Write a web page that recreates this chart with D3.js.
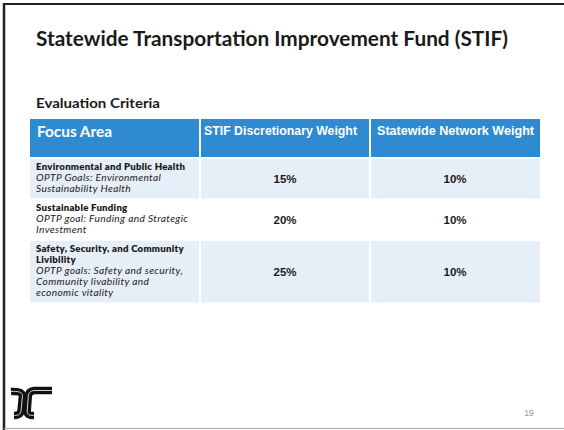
<!DOCTYPE html>
<html><head><meta charset="utf-8">
<script src="https://cdn.jsdelivr.net/npm/d3@7"></script>
<style>html,body{margin:0;padding:0;background:#fff;}svg{display:block;}</style>
</head><body>
<script>
// ---- data ----
const title = "Statewide Transportation Improvement Fund (STIF)";
const subtitle = "Evaluation Criteria";
const headers = ["Focus Area", "STIF Discretionary Weight", "Statewide Network Weight"];
const focusTitles = [
  ["Environmental and Public Health"],
  ["Sustainable Funding"],
  ["Safety, Security, and Community", "Livibility"]
];
const focusGoals = [
  ["OPTP Goals:  Environmental", "Sustainability Health"],
  ["OPTP goal:  Funding and Strategic", "Investment"],
  ["OPTP goals:  Safety and security,", "Community livability and", "economic vitality"]
];
const stifWeights = [15, 20, 25];
const networkWeights = [10, 10, 10];
const pageNumber = "19";

// ---- drawing ----
const W = 564, H = 430;
const svg = d3.select("body").append("svg").attr("width", W).attr("height", H);
svg.append("rect").attr("width", W).attr("height", H).attr("fill", "#fff");

// frame
svg.append("line").attr("x1", 4).attr("x2", W).attr("y1", 4).attr("y2", 4).attr("stroke", "#222").attr("stroke-width", 2);
svg.append("line").attr("x1", 4).attr("x2", 4).attr("y1", 3).attr("y2", H).attr("stroke", "#222").attr("stroke-width", 2.5);
svg.append("line").attr("x1", 4).attr("x2", W).attr("y1", 428.5).attr("y2", 428.5).attr("stroke", "#aaa").attr("stroke-width", 1.2);

const gothic = "'Lato','Open Sans',sans-serif";
const calibri = "'Liberation Sans','Open Sans',sans-serif";

svg.append("text").attr("x", 36).attr("y", 46).text(title)
  .attr("font-family", gothic).attr("font-weight", 700).attr("font-size", 20.5)
  .attr("fill", "#1a1a1a").attr("textLength", 472).attr("lengthAdjust", "spacingAndGlyphs");

svg.append("text").attr("x", 36).attr("y", 108).text(subtitle)
  .attr("font-family", gothic).attr("font-weight", 700).attr("font-size", 13.5)
  .attr("fill", "#1a1a1a").attr("textLength", 124).attr("lengthAdjust", "spacingAndGlyphs");

// table scales
const x = d3.scaleBand().domain(d3.range(headers.length)).range([30, 540]).paddingInner(0);
const gap = 1;
const headerTop = 119, headerBottom = 157;
const lineH = 11;
const rows = focusTitles.map((t, i) => ({
  title: t, goals: focusGoals[i], stif: stifWeights[i], net: networkWeights[i],
  lines: t.length + focusGoals[i].length
}));
let acc = 159;
rows.forEach(r => { r.top = acc; r.h = r.lines * lineH + 8; acc += r.h; });

// header
const hdr = svg.append("g");
hdr.selectAll("rect").data(headers).join("rect")
  .attr("x", (d, i) => x(i) + (i ? gap : 0))
  .attr("width", (d, i) => x.bandwidth() - (i ? gap : 0) - (i < 2 ? gap : 0))
  .attr("y", headerTop).attr("height", headerBottom - headerTop)
  .attr("fill", "#2f8bd1");
const hdrX = [37, 204, 377], hdrW = [75, 153, 157];
hdr.selectAll("text").data(headers).join("text")
  .attr("x", (d, i) => hdrX[i]).attr("y", (d, i) => i ? 135 : 137)
  .text(d => d).attr("fill", "#fff")
  .attr("font-family", (d, i) => i ? calibri : gothic)
  .attr("font-weight", 700).attr("font-size", (d, i) => i ? 12.5 : 15)
  .attr("textLength", (d, i) => hdrW[i]).attr("lengthAdjust", "spacingAndGlyphs");

// body rows
const rowG = svg.selectAll("g.row").data(rows).join("g").attr("class", "row");
rowG.each(function(r, ri) {
  const g = d3.select(this);
  const fill = ri % 2 === 0 ? "#e6eef7" : "#ffffff";
  g.selectAll("rect").data(headers).join("rect")
    .attr("x", (d, i) => x(i) + (i ? gap : 0))
    .attr("width", (d, i) => x.bandwidth() - (i ? gap : 0) - (i < 2 ? gap : 0))
    .attr("y", r.top).attr("height", r.h - 1.5).attr("fill", fill);
  const lines = r.title.map(t => ({ t, bold: true })).concat(r.goals.map(t => ({ t, bold: false })));
  g.selectAll("text.fa").data(lines).join("text").attr("class", "fa")
    .attr("x", 36).attr("y", (d, i) => r.top + 11 + i * lineH)
    .text(d => d.t).attr("fill", "#1a1a1a")
    .attr("font-family", gothic)
    .attr("font-size", d => d.bold ? 9.6 : 10.2)
    .attr("font-weight", d => d.bold ? 800 : 400)
    .attr("font-style", d => d.bold ? "normal" : "italic")
    .attr("letter-spacing", d => d.bold ? 0.25 : 0.35);
  const cy = r.top + (r.h - 1.5) / 2 + 4;
  g.selectAll("text.val").data([r.stif, r.net]).join("text").attr("class", "val")
    .attr("x", (d, i) => x(i + 1) + x.bandwidth() / 2).attr("y", cy)
    .attr("text-anchor", "middle").text(d => d + "%")
    .attr("font-family", calibri).attr("font-weight", 700).attr("font-size", 11.5)
    .attr("fill", "#1a1a1a");
});

// logo
const logo = svg.append("g").attr("fill", "none").attr("stroke-linecap", "butt");
const logoPaths = [
  "M11,391.5 C18,391 22,392 22.5,395.5 L21,411 C20.5,414.5 18,415.5 14,415.5",
  "M52,390.5 L34,390.5 C30,391 28.5,393 28.3,396 L27.2,411 C27,414.5 29,415.5 34,415.5"
];
logo.selectAll("path.b").data(logoPaths).join("path").attr("class", "b")
  .attr("d", d => d).attr("stroke", "#111").attr("stroke-width", 7.5);
logo.selectAll("path.w").data(logoPaths).join("path").attr("class", "w")
  .attr("d", d => d).attr("stroke", "#fff").attr("stroke-width", 0.8);

svg.append("text").attr("x", 529).attr("y", 416).attr("text-anchor", "middle")
  .text(pageNumber).attr("font-family", "'Liberation Sans',sans-serif")
  .attr("font-size", 8.5).attr("fill", "#999");
</script>
</body></html>
